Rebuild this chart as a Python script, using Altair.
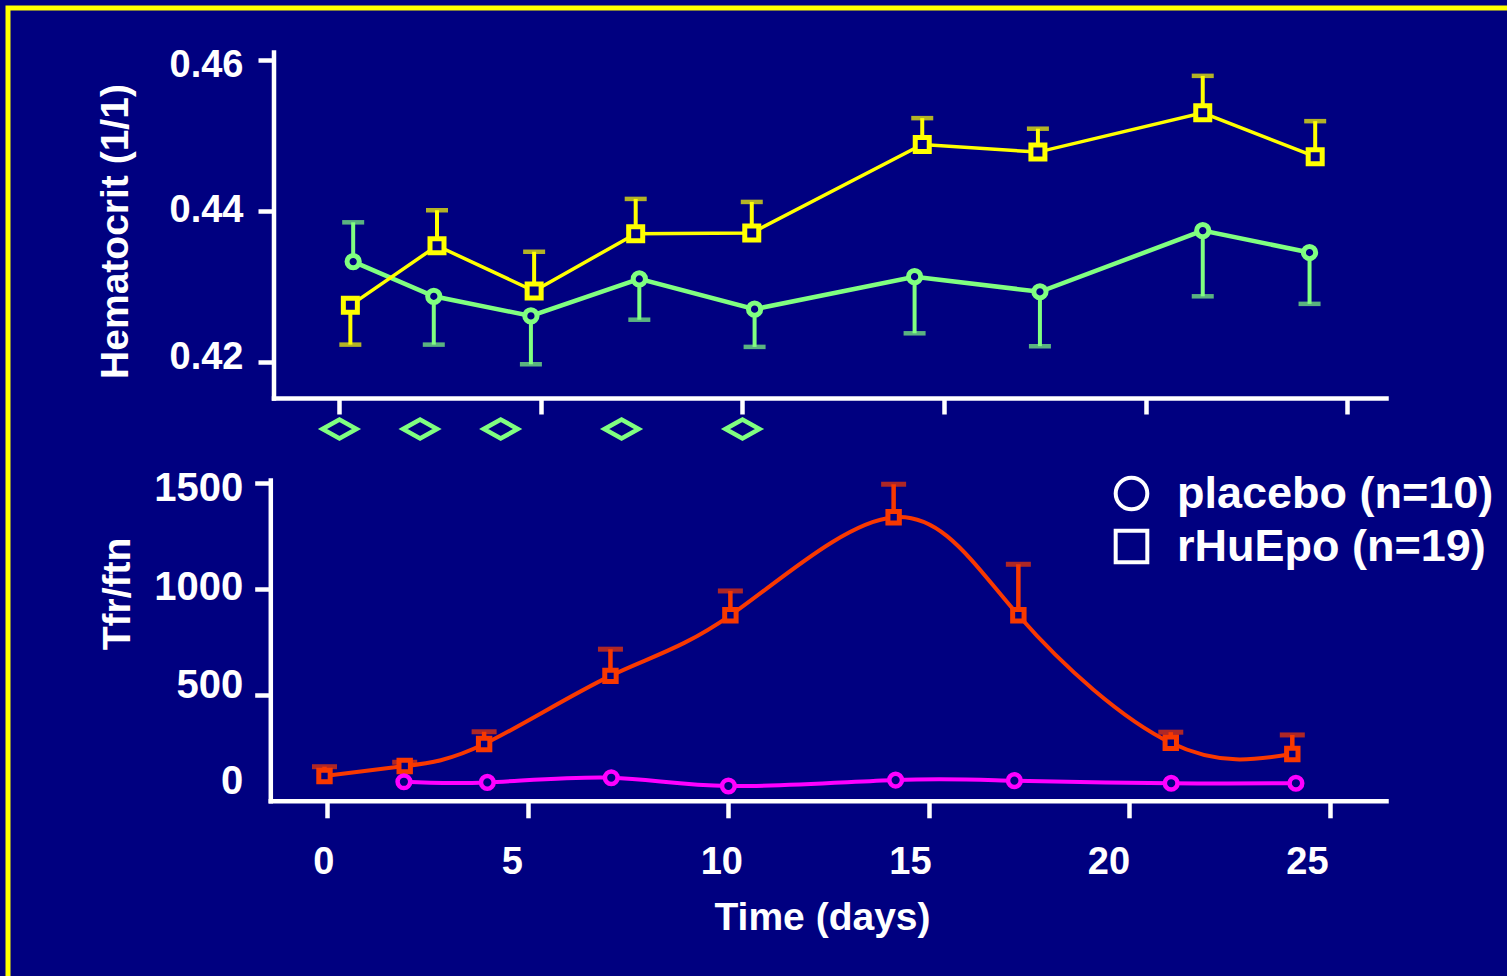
import altair as alt
import pandas as pd

# ---------------- data ----------------
# Top panel: hematocrit (1/1)
HCT_PLACEBO_DAY = [0.34, 2.34, 4.75, 7.44, 10.30, 14.27, 17.38, 21.42, 24.07]
HCT_PLACEBO = [0.4333, 0.4287, 0.4261, 0.4310, 0.4270, 0.4313, 0.4293, 0.4374, 0.4345]
HCT_PLACEBO_ERR_END = [0.4385, 0.4223, 0.4197, 0.4256, 0.4220, 0.4238, 0.4221, 0.4287, 0.4277]

HCT_EPO_DAY = [0.27, 2.42, 4.83, 7.35, 10.23, 14.46, 17.33, 21.42, 24.21]
HCT_EPO = [0.4275, 0.4354, 0.4294, 0.4370, 0.4371, 0.4488, 0.4478, 0.4530, 0.4472]
HCT_EPO_ERR_END = [0.4223, 0.4401, 0.4346, 0.4416, 0.4412, 0.4523, 0.4509, 0.4579, 0.4519]

# rHuEpo dosing days (diamonds)
DOSE_DAYS = [0, 2, 4, 7, 10]

# Bottom panel: Tfr/ftn
TFR_EPO_DAY = [-0.07, 1.93, 3.91, 7.06, 10.05, 14.12, 17.23, 21.03, 24.06]
TFR_EPO = [117, 164, 268, 590, 876, 1339, 876, 274, 221]
TFR_EPO_ERR_END = [161, 182, 326, 716, 991, 1495, 1117, 324, 311]

TFR_PLACEBO_DAY = [1.91, 3.99, 7.08, 10.0, 14.17, 17.13, 21.04, 24.15]
TFR_PLACEBO = [90, 87, 109, 70, 98, 95, 83, 83]

TICK_DAYS = [0, 5, 10, 15, 20, 25]
HCT_TICKS = [0.42, 0.44, 0.46]
TFR_TICKS = [0, 500, 1000, 1500]
LEGEND_LABELS = ["placebo (n=10)", "rHuEpo (n=19)"]

# ---------------- style / layout ----------------
NAVY = "#000080"
YELLOW = "#FFFF00"
GREEN = "#80FF80"
RED = "#F83800"
MAGENTA = "#FF00FF"
WHITE = "#FFFFFF"
FONT = "Liberation Sans"

W, H = 1499, 968

TOP_X_SCALE = dict(domain=[-1.637, 25.967], range=[265.5, 1378], nice=False, zero=False)
TOP_Y_SCALE = dict(domain=[0.41523, 0.46106], range=[390, 44], nice=False, zero=False)
BOT_X_SCALE = dict(domain=[-1.421, 26.396], range=[262.3, 1378], nice=False, zero=False)
BOT_Y_SCALE = dict(domain=[0, 1515], range=[792.8, 472], nice=False, zero=False)
DOSE_Y_SCALE = dict(domain=[0, 1], range=[421, 420], nice=False, zero=False)


def label_shift(pairs):
    """Per-label nudges along the axis, as the hand-placed labels of the original."""
    return {"condition": [{"test": f"datum.value === {v}", "value": d} for v, d in pairs],
            "value": 0}


AXIS_COMMON = dict(
    grid=False, domainColor=WHITE, domainWidth=4.5, domainCap="square",
    tickColor=WHITE, tickWidth=4.5, labelColor=WHITE, labelFont=FONT,
    labelFontWeight="bold", titleColor=WHITE, titleFont=FONT, titleFontWeight="bold",
)

top_x_axis = alt.Axis(orient="bottom", offset=390 - H, values=TICK_DAYS, labels=False,
                      title=None, tickSize=16, **AXIS_COMMON)
top_y_axis = alt.Axis(orient="left", offset=-265.5, values=HCT_TICKS, format=".2f",
                      labelFontSize=38, labelPadding=15, tickSize=15.5,
                      labelOffset=label_shift([(0.46, 5), (0.42, -4)]),
                      title="Hematocrit (1/1)", titleFontSize=39, titleX=-158.5, titleY=223,
                      titleBaseline="middle", **AXIS_COMMON)
bot_x_axis = alt.Axis(orient="bottom", offset=792.8 - H, values=TICK_DAYS, format="d",
                      labelFontSize=38, labelPadding=26, tickSize=17,
                      labelOffset=label_shift([(0, -4), (5, -16), (10, -7), (15, -19),
                                               (20, -21), (25, -23)]),
                      title="Time (days)", titleFontSize=39, titleX=814, titleY=129,
                      titleBaseline="alphabetic", **AXIS_COMMON)
bot_y_axis = alt.Axis(orient="left", offset=-262.3, values=TFR_TICKS, format="d",
                      labelFontSize=40, labelPadding=12, tickSize=15.6,
                      labelOffset=label_shift([(0, -19), (500, -9), (1000, -2), (1500, 5)]),
                      tickOpacity={"condition": {"test": "datum.value === 0", "value": 0}, "value": 1},
                      title="Tfr/ftn", titleFontSize=39, titleX=-152.3, titleY=585.5,
                      titleBaseline="middle", **AXIS_COMMON)


def tx():
    return alt.X("day:Q", scale=alt.Scale(**TOP_X_SCALE), axis=top_x_axis)


def ty(field):
    return alt.Y(f"{field}:Q", scale=alt.Scale(**TOP_Y_SCALE), axis=top_y_axis)


def bx():
    return alt.X("day:Q", scale=alt.Scale(**BOT_X_SCALE), axis=bot_x_axis)


def by(field):
    return alt.Y(f"{field}:Q", scale=alt.Scale(**BOT_Y_SCALE), axis=bot_y_axis)


# ---------------- top panel ----------------
hct_pl = pd.DataFrame({"day": HCT_PLACEBO_DAY, "v": HCT_PLACEBO, "e": HCT_PLACEBO_ERR_END})
hct_ep = pd.DataFrame({"day": HCT_EPO_DAY, "v": HCT_EPO, "e": HCT_EPO_ERR_END})

top_layers = []
for df, col, shape, size, lw in [(hct_pl, GREEN, "circle", 150, 4.5), (hct_ep, YELLOW, "square", 196, 3.5)]:
    base = alt.Chart(df)
    line = base.mark_line(color=col, strokeWidth=lw).encode(x=tx(), y=ty("v"))
    stem = base.mark_rule(color=col, strokeWidth=4).encode(x=tx(), y=ty("v"), y2="e:Q")
    cap = base.mark_tick(color=col, orient="horizontal", size=22, thickness=4.5).encode(
        x=tx(), y=ty("e"))
    pts = base.mark_point(shape=shape, size=size, filled=True, fill=NAVY, stroke=col,
                          strokeWidth=5, opacity=1).encode(x=tx(), y=ty("v"))
    top_layers += [line, stem, cap, pts]

top = alt.layer(*top_layers)

# dosing diamonds
DIAMOND = "M-1,0L0,-0.56L1,0L0,0.56Z"
doses = alt.Chart(pd.DataFrame({"day": DOSE_DAYS, "lane": [0] * len(DOSE_DAYS)})).mark_point(
    shape=DIAMOND, size=1156, filled=False, color=GREEN, strokeWidth=4.5, opacity=1
).encode(
    x=alt.X("day:Q", scale=alt.Scale(**TOP_X_SCALE), axis=None),
    y=alt.Y("lane:Q", scale=alt.Scale(**DOSE_Y_SCALE), axis=None),
)

# ---------------- bottom panel ----------------
tfr_ep = pd.DataFrame({"day": TFR_EPO_DAY, "v": TFR_EPO, "e": TFR_EPO_ERR_END,
                       "series": LEGEND_LABELS[1]})
tfr_pl = pd.DataFrame({"day": TFR_PLACEBO_DAY, "v": TFR_PLACEBO, "series": LEGEND_LABELS[0]})
tfr_all = pd.concat([tfr_ep, tfr_pl], ignore_index=True)

legend = alt.Legend(title=None, orient="none", legendX=1101, legendY=463,
                    labelColor=WHITE, labelFont=FONT, labelFontSize=45,
                    labelFontWeight="bold", labelOffset=23, labelLimit=0,
                    symbolSize=1000, symbolStrokeWidth=4, rowPadding=4)

SHAPE_SCALE = alt.Scale(domain=LEGEND_LABELS, range=["circle", "square"])

ep_line = alt.Chart(tfr_ep).mark_line(color=RED, strokeWidth=4, interpolate="natural").encode(
    x=bx(), y=by("v"))
pl_line = alt.Chart(tfr_pl).mark_line(color=MAGENTA, strokeWidth=4, interpolate="natural").encode(
    x=bx(), y=by("v"))
ep_stem = alt.Chart(tfr_ep).mark_rule(color=RED, strokeWidth=4.5).encode(x=bx(), y=by("v"), y2="e:Q")
ep_cap = alt.Chart(tfr_ep).mark_tick(color=RED, orient="horizontal", size=25, thickness=5).encode(
    x=bx(), y=by("e"))
# white-outlined markers (source of the legend), covered by the coloured markers
key_pts = alt.Chart(tfr_all).mark_point(size=130, filled=True, fill=NAVY, stroke=WHITE,
                                        strokeWidth=2.5, opacity=1).encode(
    x=bx(), y=by("v"),
    shape=alt.Shape("series:N", scale=SHAPE_SCALE, legend=legend))
ep_pts = alt.Chart(tfr_ep).mark_point(shape="square", size=130, filled=True, fill=NAVY, stroke=RED,
                                      strokeWidth=5, opacity=1).encode(x=bx(), y=by("v"))
pl_pts = alt.Chart(tfr_pl).mark_point(shape="circle", size=160, filled=True, fill=NAVY,
                                      stroke=MAGENTA, strokeWidth=4.5, opacity=1).encode(
    x=bx(), y=by("v"))

bottom = alt.layer(pl_line, ep_line, ep_stem, ep_cap, key_pts, ep_pts, pl_pts)

chart = alt.layer(top, bottom, doses).resolve_scale(
    x="independent", y="independent"
).properties(
    width=W, height=H,
    padding={"left": 8, "top": 8, "right": 0, "bottom": 0},
    autosize=alt.AutoSizeParams(type="none"),
    background=NAVY,
).configure_view(
    stroke=YELLOW, strokeWidth=5, fill=NAVY, strokeDash=[W, W + H, H]
)

chart.save("out.html", embed_options={"renderer": "svg", "actions": False})
